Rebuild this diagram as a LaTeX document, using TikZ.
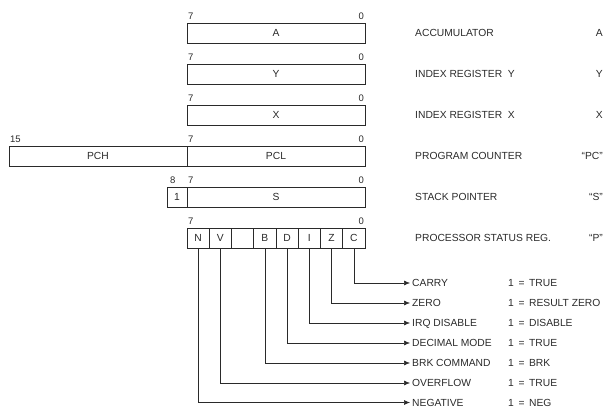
\documentclass[tikz,border=0pt]{standalone}
\usepackage{fontspec}
\setmainfont{Liberation Sans}
\usepackage{xcolor}
\usetikzlibrary{arrows.meta,positioning}
\definecolor{RegInk}{HTML}{2A2A2A}

\begin{document}
\begin{tikzpicture}[x=1pt, y=-1pt,
  font=\fontsize{10.3}{12}\selectfont,
  node distance=21pt and 50pt,
  reg/.style={draw=RegInk, line width=0.7pt, minimum width=178pt, minimum height=20pt, inner sep=0pt, outer sep=0pt, text=RegInk},
  flagcell/.style={draw=RegInk, line width=0.7pt, minimum width=22.25pt, minimum height=20pt, inner sep=0pt, outer sep=0pt, text=RegInk},
  bitno/.style={font=\fontsize{9.5}{11}\selectfont, inner sep=0pt, text=RegInk},
  regname/.style={anchor=west, inner sep=0pt, text height=7.4pt, text depth=0pt, text=RegInk},
  abbr/.style={anchor=east, inner sep=0pt, text height=7.4pt, text depth=0pt, text=RegInk},
  flagname/.style={anchor=west, inner xsep=2pt, inner ysep=0pt, text height=7.4pt, text depth=0pt, text=RegInk},
  arrow/.style={-{Latex[length=6pt,width=5pt]}, line width=0.6pt, draw=RegInk}
]
  \useasboundingbox (0,0) rectangle (607,409);
  \coordinate (rcol) at (603,0);

  % registers
  \node[reg, anchor=north west] (accu) at (187,23) {A};
  \node[reg, below=of accu] (idxy) {Y};
  \node[reg, below=of idxy] (idxx) {X};
  \node[reg, below=of idxx] (pcl) {PCL};
  \node[reg, left=0pt of pcl] (pch) {PCH};
  \node[reg, below=of pcl] (stack) {S};
  \node[reg, minimum width=20pt, left=0pt of stack] (stackhi) {1};

  % bit numbers
  \node[bitno, anchor=south west] (accu7) at ([xshift=1pt,yshift=3pt]accu.north west) {7};
  \node[bitno, anchor=south east] (accu0) at ([xshift=-1pt,yshift=3pt]accu.north east) {0};
  \node[bitno, anchor=south west] (idxy7) at ([xshift=1pt,yshift=3pt]idxy.north west) {7};
  \node[bitno, anchor=south east] (idxy0) at ([xshift=-1pt,yshift=3pt]idxy.north east) {0};
  \node[bitno, anchor=south west] (idxx7) at ([xshift=1pt,yshift=3pt]idxx.north west) {7};
  \node[bitno, anchor=south east] (idxx0) at ([xshift=-1pt,yshift=3pt]idxx.north east) {0};
  \node[bitno, anchor=south west] (pch15) at ([xshift=1pt,yshift=3pt]pch.north west) {15};
  \node[bitno, anchor=south west] (pcl7) at ([xshift=1pt,yshift=3pt]pcl.north west) {7};
  \node[bitno, anchor=south east] (pcl0) at ([xshift=-1pt,yshift=3pt]pcl.north east) {0};
  \node[bitno, anchor=south west] (stack8) at ([xshift=3pt,yshift=3pt]stackhi.north west) {8};
  \node[bitno, anchor=south west] (stack7) at ([xshift=1pt,yshift=3pt]stack.north west) {7};
  \node[bitno, anchor=south east] (stack0) at ([xshift=-1pt,yshift=3pt]stack.north east) {0};

  % status register cells
  \node[flagcell, below=of stack.south west, anchor=north west] (fN) {N};
  \node[flagcell, right=0pt of fN] (fV) {V};
  \node[flagcell, right=0pt of fV] (fU) {};
  \node[flagcell, right=0pt of fU] (fB) {B};
  \node[flagcell, right=0pt of fB] (fD) {D};
  \node[flagcell, right=0pt of fD] (fI) {I};
  \node[flagcell, right=0pt of fI] (fZ) {Z};
  \node[flagcell, right=0pt of fZ] (fC) {C};
  \node[bitno, anchor=south west] (stat7) at ([xshift=1pt,yshift=3pt]fN.north west) {7};
  \node[bitno, anchor=south east] (stat0) at ([xshift=-1pt,yshift=3pt]fC.north east) {0};

  % register names
  \node[regname, right=of accu] (naccu) {ACCUMULATOR};
  \node[regname, right=of idxy] (nidxy) {INDEX REGISTER~~Y};
  \node[regname, right=of idxx] (nidxx) {INDEX REGISTER~~X};
  \node[regname, right=of pcl] (npc) {PROGRAM COUNTER};
  \node[regname, right=of stack] (nstack) {STACK POINTER};
  \node[regname, right=of fC] (nstat) {PROCESSOR STATUS REG.};
  \node[abbr] (aaccu) at (accu -| rcol) {A};
  \node[abbr] (aidxy) at (idxy -| rcol) {Y};
  \node[abbr] (aidxx) at (idxx -| rcol) {X};
  \node[abbr] (apc) at (pcl -| rcol) {“PC”};
  \node[abbr] (astack) at (stack -| rcol) {“S”};
  \node[abbr] (astat) at (fC -| rcol) {“P”};

  % flag meanings
  \node[flagname] (carry) at (410,283) {CARRY};
  \node[flagname] (zero) at (410,303) {ZERO};
  \node[flagname] (irq) at (410,323) {IRQ DISABLE};
  \node[flagname] (decimal) at (410,343) {DECIMAL MODE};
  \node[flagname] (brk) at (410,363) {BRK COMMAND};
  \node[flagname] (overflow) at (410,383) {OVERFLOW};
  \node[flagname] (negative) at (410,402.5) {NEGATIVE};
  \node[flagname] (carryv) at (506,283) {1 \,=\, TRUE};
  \node[flagname] (zerov) at (506,303) {1 \,=\, RESULT ZERO};
  \node[flagname] (irqv) at (506,323) {1 \,=\, DISABLE};
  \node[flagname] (decimalv) at (506,343) {1 \,=\, TRUE};
  \node[flagname] (brkv) at (506,363) {1 \,=\, BRK};
  \node[flagname] (overflowv) at (506,383) {1 \,=\, TRUE};
  \node[flagname] (negativev) at (506,402.5) {1 \,=\, NEG};

  \draw[arrow] (fC.south) |- (carry.west);
  \draw[arrow] (fZ.south) |- (zero.west);
  \draw[arrow] (fI.south) |- (irq.west);
  \draw[arrow] (fD.south) |- (decimal.west);
  \draw[arrow] (fB.south) |- (brk.west);
  \draw[arrow] (fV.south) |- (overflow.west);
  \draw[arrow] (fN.south) |- (negative.west);
\end{tikzpicture}
\end{document}
